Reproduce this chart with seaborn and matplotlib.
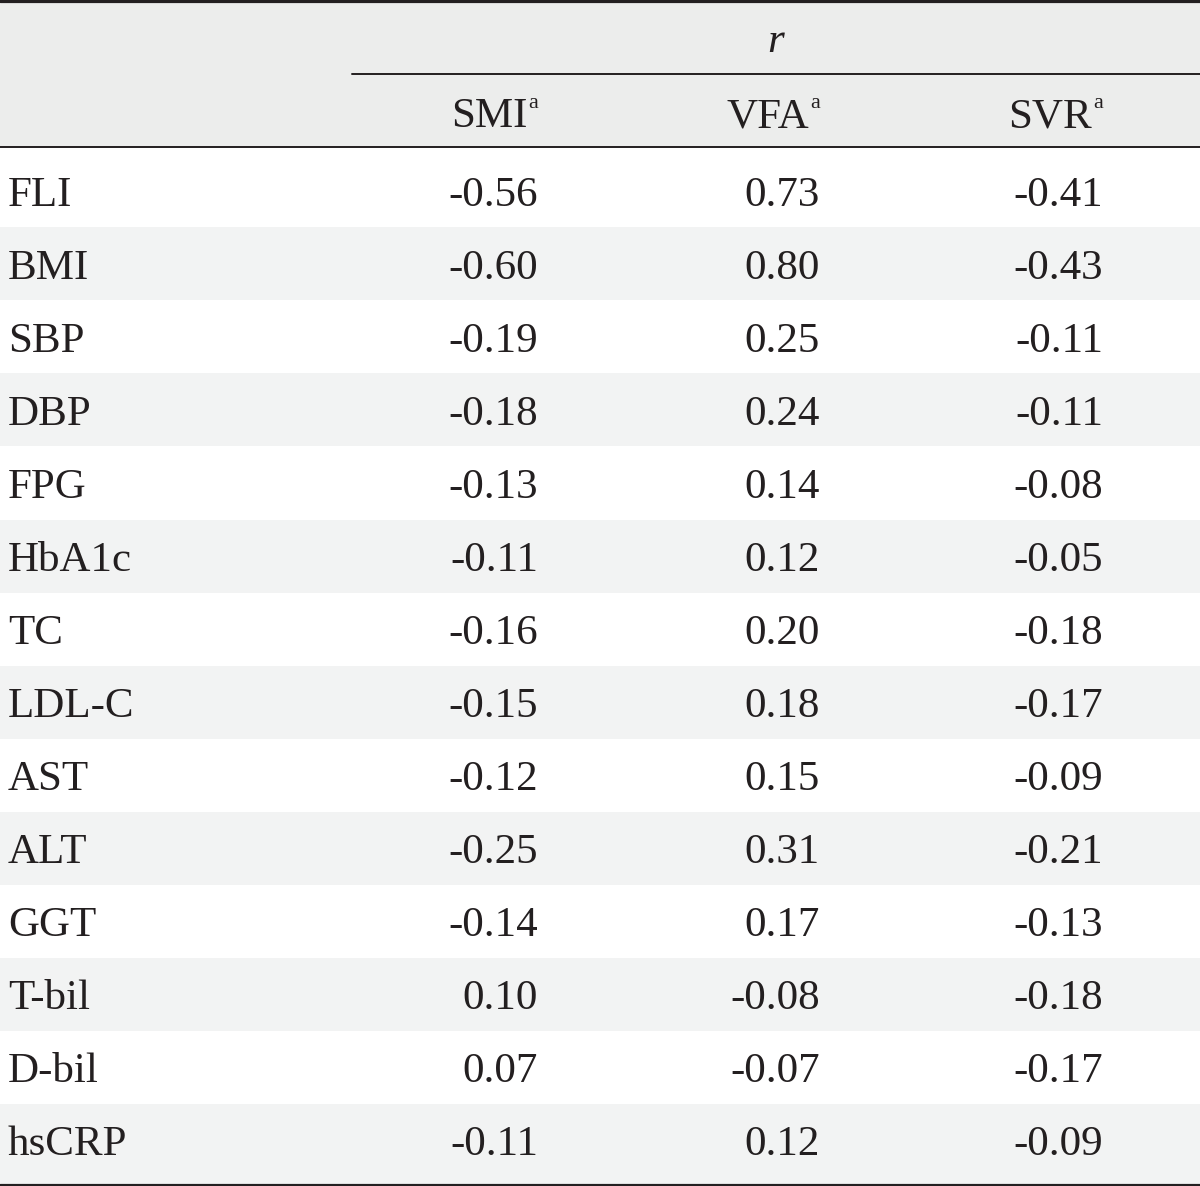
import numpy as np
import matplotlib
matplotlib.use("Agg")
import matplotlib.pyplot as plt
from matplotlib.colors import ListedColormap
import seaborn as sns

# table content
row_labels = ['FLI', 'BMI', 'SBP', 'DBP', 'FPG', 'HbA1c', 'TC', 'LDL-C',
              'AST', 'ALT', 'GGT', 'T-bil', 'D-bil', 'hsCRP']
col_labels = ['SMI', 'VFA', 'SVR']
smi = [-0.56, -0.60, -0.19, -0.18, -0.13, -0.11, -0.16, -0.15, -0.12, -0.25,
       -0.14, 0.10, 0.07, -0.11]
vfa = [0.73, 0.80, 0.25, 0.24, 0.14, 0.12, 0.20, 0.18, 0.15, 0.31, 0.17,
       -0.08, -0.07, 0.12]
svr = [-0.41, -0.43, -0.11, -0.11, -0.08, -0.05, -0.18, -0.17, -0.09, -0.21,
       -0.13, -0.18, -0.17, -0.09]
group_label = 'r'
footnote_mark = 'a'

sns.set_theme(style="white")
plt.rcParams['font.family'] = ['Liberation Serif', 'DejaVu Serif']

TXT = '#231f20'
HEAD_BG = '#ecedec'
SHADE = '#f2f3f3'
W, H = 1200, 1186
FS = 31

fig = plt.figure(figsize=(W / 100, H / 100), dpi=100)

# zebra banding for the body rows, drawn as a one-column heatmap
body_top, row_h = 154.2, 73.07
body_bot = body_top + row_h * len(row_labels)
hax = fig.add_axes([0, 1 - body_bot / H, 1, (body_bot - body_top) / H])
band = np.array([[i % 2] for i in range(len(row_labels))])
sns.heatmap(band, cmap=ListedColormap(['white', SHADE]), cbar=False,
            xticklabels=False, yticklabels=False, ax=hax)
hax.set_axis_off()

ax = fig.add_axes([0, 0, 1, 1])
ax.patch.set_alpha(0)
ax.set_xlim(0, W)
ax.set_ylim(H, 0)
ax.set_axis_off()

# header background and extra strip under the last shaded row
ax.axhspan(0, 147, color=HEAD_BG, lw=0)
ax.axhspan(body_bot - 0.5, 1184, color=SHADE, lw=0)

# rules
ax.axhline(1.2, color=TXT, lw=2.3)
ax.axhline(1184.8, color=TXT, lw=2.3)
ax.plot([352, W], [73.5, 73.5], color=TXT, lw=1.4)
ax.axhline(147, color=TXT, lw=1.4)

# header
ax.text(776, 52, group_label, style='italic', fontsize=FS, color=TXT,
        ha='center', va='baseline')
col_right = [538, 820, 1103]
for name, xr in zip(col_labels, col_right):
    ax.text(xr - 11, 127, name, fontsize=FS, color=TXT, ha='right', va='baseline')
    ax.text(xr, 108, footnote_mark, fontsize=16, color=TXT, ha='right', va='baseline')

# body
for i, lab in enumerate(row_labels):
    y = 205.5 + row_h * i
    ax.text(8, y, lab, fontsize=FS, color=TXT, ha='left', va='baseline')
    for vals, xr in zip([smi, vfa, svr], col_right):
        ax.text(xr, y, f'{vals[i]:.2f}', fontsize=FS, color=TXT,
                ha='right', va='baseline')

fig.savefig('out.png', dpi=100)
